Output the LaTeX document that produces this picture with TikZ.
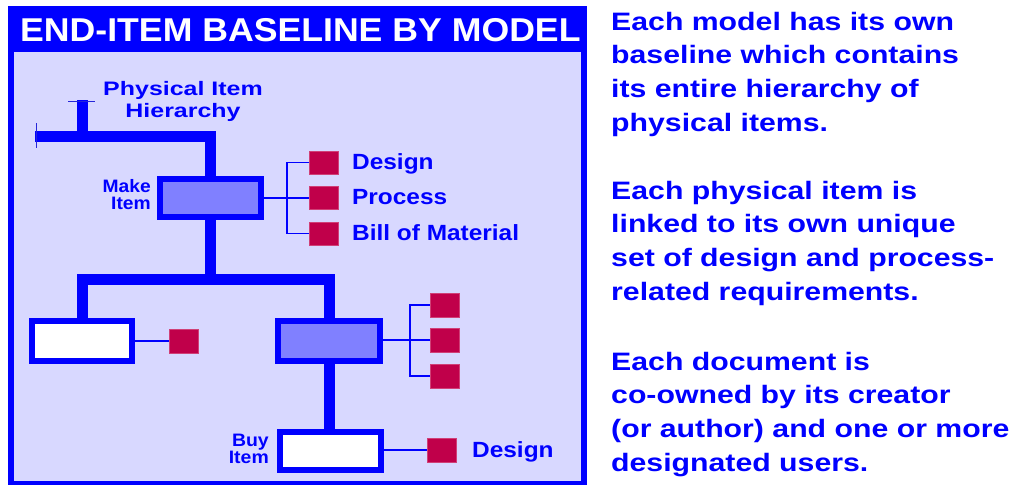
\documentclass[tikz,border=0pt]{standalone}
\usepackage{fontspec}
\usepackage{graphicx}
\setmainfont{Liberation Sans}
\definecolor{bl}{RGB}{0,0,255}
\definecolor{lav}{RGB}{216,216,255}
\definecolor{purp}{RGB}{128,128,255}
\definecolor{docred}{RGB}{192,0,74}
\begin{document}
\begin{tikzpicture}[x=1pt,y=-1pt,
  tree/.style={draw=bl,line width=11,line join=miter,line cap=butt},
  conn/.style={draw=bl,line width=1.4},
  tick/.style={draw=bl!70!gray,line width=0.8},
  item/.style={draw=bl,line width=6,minimum width=101,minimum height=38,inner sep=0},
  doc/.style={fill=docred,draw=docred!75!white,line width=0.6,minimum width=29.4,minimum height=23,inner sep=0},
  lbl/.style={inner sep=0,text=bl,font=\bfseries\fontsize{22}{26}\selectfont},
  small/.style={inner sep=0,text=bl,font=\bfseries\fontsize{18}{17.5}\selectfont},
  para/.style={inner sep=0,text=bl,anchor=base west,font=\bfseries\fontsize{25.2}{33.7}\selectfont}]
\useasboundingbox (0,0) rectangle (1015,485);
\fill[white] (0,0) rectangle (1015,485);
% frame
\fill[bl] (8,6) rectangle (587,485);
\fill[lav] (14,52) rectangle (581,481);
\node[inner sep=0,anchor=base west,text=white,font=\bfseries\fontsize{33}{36}\selectfont] (title) at (20,41) {\scalebox{1.08}[1]{END-ITEM BASELINE BY MODEL}};
% items
\node[item,fill=purp] (mk) at (210.5,198) {};
\node[item,fill=white,minimum width=100,minimum height=40] (lb) at (82,341) {};
\node[item,fill=purp,minimum width=102,minimum height=40] (rb) at (329,341) {};
\node[item,fill=white] (buy) at (330.5,451) {};
% tree
\coordinate (top) at (82.5,100);
\coordinate (lend) at (35,136);
\coordinate (bar) at (0,279.5);
\draw[tree] (top) -- (top |- lend);
\draw[tree] (lend) -- (mk.north |- lend) -- (mk.north);
\draw[tree] (mk.south) -- (mk.south |- bar);
\draw[tree] (lb.north) -- (lb.north |- bar) -- (rb.north |- bar) -- (rb.north);
\draw[tree] (rb.south) -- (rb.south |- buy.north);
% small ticks
\coordinate (tk1) at (68,101);
\coordinate (tk2) at (95,101);
\coordinate (tk3) at (36,123);
\coordinate (tk4) at (36,148);
\draw[tick] (tk1) -- (tk2);
\draw[tick] (tk3) -- (tk4);
% documents
\node[doc] (d1) at (323.5,162.5) {};
\node[doc] (d2) at (323.5,198) {};
\node[doc] (d3) at (323.5,233.5) {};
\node[doc,minimum height=24] (dl) at (184,341) {};
\node[doc,minimum height=24] (r1) at (444.5,305) {};
\node[doc,minimum height=24] (r2) at (444.5,340) {};
\node[doc,minimum height=24] (r3) at (444.5,376) {};
\node[doc,minimum height=24] (db) at (442,450) {};
\coordinate (b1) at (287,0);
\coordinate (b2) at (410,0);
\draw[conn] (mk.east) -- (d2.west);
\draw[conn] (d1.west) -- (d1.west -| b1) -- (d3.west -| b1) -- (d3.west);
\draw[conn] (lb.east) -- (dl.west);
\draw[conn] (rb.east |- r2.west) -- (r2.west);
\draw[conn] (r1.west) -- (r1.west -| b2) -- (r3.west -| b2) -- (r3.west);
\draw[conn] (buy.east |- db.west) -- (db.west);
% labels
\node[lbl,anchor=base west] (ld) at (352,169) {\scalebox{1.11}[1]{Design}};
\node[lbl,anchor=base west] (lp) at (352,204) {\scalebox{1.11}[1]{Process}};
\node[lbl,anchor=base west] (lm) at (352,240) {\scalebox{1.11}[1]{Bill of Material}};
\node[lbl,anchor=base west] (ldb) at (472,457) {\scalebox{1.11}[1]{Design}};
\node[inner sep=0,text=bl,font=\bfseries\fontsize{19.5}{22}\selectfont,anchor=base] (phy) at (183,95) {\scalebox{1.28}[1]{\begin{tabular}[t]{@{}c@{}}Physical Item\\Hierarchy\end{tabular}}};
\node[small,anchor=base east] (lmk) at (151,192) {\scalebox{1.07}[1]{\begin{tabular}[t]{@{}r@{}}Make\\Item\end{tabular}}};
\node[small,anchor=base east] (lbuy) at (269,446) {\scalebox{1.08}[1]{\begin{tabular}[t]{@{}r@{}}Buy\\Item\end{tabular}}};
% right text
\node[para] (p1) at (611,30) {\scalebox{1.2}[1]{\begin{tabular}[t]{@{}l@{}}Each model has its own\\baseline which contains\\its entire hierarchy of\\physical items.\end{tabular}}};
\node[para] (p2) at (611,199) {\scalebox{1.2}[1]{\begin{tabular}[t]{@{}l@{}}Each physical item is\\linked to its own unique\\set of design and process-\\related requirements.\end{tabular}}};
\node[para] (p3) at (611,370) {\scalebox{1.2}[1]{\begin{tabular}[t]{@{}l@{}}Each document is\\co-owned by its creator\\(or author) and one or more\\designated users.\end{tabular}}};
\end{tikzpicture}
\end{document}
